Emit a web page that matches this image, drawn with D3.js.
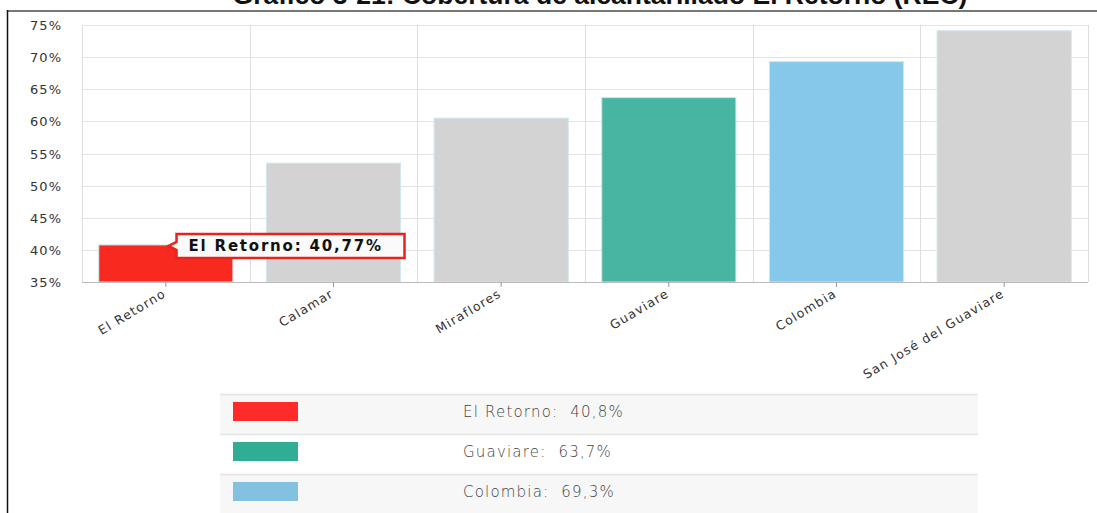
<!DOCTYPE html>
<html>
<head>
<meta charset="utf-8">
<script src="https://cdn.jsdelivr.net/npm/d3@7"></script>
<style>
  body { margin: 0; background: #fff; }
  svg { display: block; }
</style>
</head>
<body>
<div id="chart"></div>
<script>
// chart data
const categories = ["El Retorno", "Calamar", "Miraflores", "Guaviare", "Colombia", "San José del Guaviare"];
const values = [40.77, 53.5, 60.5, 63.7, 69.3, 74.1];
const barColors = ["#f8291f", "#d3d3d3", "#d3d3d3", "#48b4a2", "#86c8ea", "#d3d3d3"];
const yTicks = [35, 40, 45, 50, 55, 60, 65, 70, 75];

const legendLabels = ["El Retorno:  40,8%", "Guaviare:  63,7%", "Colombia:  69,3%"];
const legendColors = ["#ff2a2a", "#31ad95", "#83c1e1"];

const titleText = "Gráfico 3-21: Cobertura de alcantarillado El Retorno (REC)";
const tooltipText = "El Retorno: 40,77%";

// size
const W = 1097, H = 513;
const PLOT_LEFT = 82, PLOT_RIGHT = 1088, PLOT_TOP = 25, PLOT_BOTTOM = 282;

const svg = d3.select("#chart")
    .append("svg")
    .attr("width", W)
    .attr("height", H);

// page frame + title (cut off by the top edge, as in the page)
svg.append("text")
    .attr("x", 600)
    .attr("y", 4)
    .attr("text-anchor", "middle")
    .attr("font-family", "Liberation Sans, Arial, sans-serif")
    .attr("font-weight", "bold")
    .attr("font-size", 26.5)
    .attr("fill", "#111")
    .text(titleText);

svg.append("line")
    .attr("x1", 7).attr("x2", W)
    .attr("y1", 11).attr("y2", 11)
    .attr("stroke", "#777").attr("stroke-width", 2);

svg.append("line")
    .attr("x1", 7.5).attr("x2", 7.5)
    .attr("y1", 10).attr("y2", H)
    .attr("stroke", "#111").attr("stroke-width", 1.5);

// scales
const xScale = d3.scaleBand()
    .domain(categories)
    .range([PLOT_LEFT, PLOT_RIGHT])
    .paddingInner(0.2)
    .paddingOuter(0.1);

const yScale = d3.scaleLinear()
    .domain([35, 75])
    .range([PLOT_BOTTOM, PLOT_TOP]);

// grid
const gridX = d3.range(categories.length + 1).map(i => PLOT_LEFT + i * (PLOT_RIGHT - PLOT_LEFT) / categories.length);

svg.append("g")
    .selectAll("line")
    .data(yTicks)
    .join("line")
    .attr("x1", PLOT_LEFT).attr("x2", PLOT_RIGHT)
    .attr("y1", d => Math.round(yScale(d)) + 0.5)
    .attr("y2", d => Math.round(yScale(d)) + 0.5)
    .attr("stroke", "#e3e3e3");

svg.append("g")
    .selectAll("line")
    .data(gridX)
    .join("line")
    .attr("x1", d => Math.round(d) + 0.5).attr("x2", d => Math.round(d) + 0.5)
    .attr("y1", PLOT_TOP).attr("y2", PLOT_BOTTOM)
    .attr("stroke", "#dedede");

// bars
svg.append("g")
    .selectAll("rect")
    .data(categories)
    .join("rect")
    .attr("x", d => xScale(d))
    .attr("y", (d, i) => yScale(values[i]))
    .attr("width", xScale.bandwidth())
    .attr("height", (d, i) => yScale(35) - yScale(values[i]))
    .attr("fill", (d, i) => barColors[i])
    .attr("stroke", "#cfe6ee")
    .attr("stroke-width", 1);

// y axis labels
svg.append("g")
    .selectAll("text")
    .data(yTicks)
    .join("text")
    .attr("x", 62)
    .attr("y", d => yScale(d) + 5)
    .attr("text-anchor", "end")
    .attr("font-family", "DejaVu Sans, Verdana, sans-serif")
    .attr("font-size", 13)
    .attr("letter-spacing", 1)
    .attr("fill", "#333")
    .text(d => d + "%");

// x axis line + ticks
svg.append("line")
    .attr("x1", PLOT_LEFT).attr("x2", PLOT_RIGHT)
    .attr("y1", PLOT_BOTTOM + 0.5).attr("y2", PLOT_BOTTOM + 0.5)
    .attr("stroke", "#bbb");

svg.append("g")
    .selectAll("line")
    .data(categories)
    .join("line")
    .attr("x1", d => xScale(d) + xScale.bandwidth() / 2)
    .attr("x2", d => xScale(d) + xScale.bandwidth() / 2)
    .attr("y1", PLOT_BOTTOM).attr("y2", PLOT_BOTTOM + 5)
    .attr("stroke", "#999");

svg.append("g")
    .selectAll("text")
    .data(categories)
    .join("text")
    .attr("transform", d => `translate(${xScale(d) + xScale.bandwidth() / 2 + 1}, ${PLOT_BOTTOM + 14}) rotate(-31)`)
    .attr("text-anchor", "end")
    .attr("font-family", "DejaVu Sans, Verdana, sans-serif")
    .attr("font-size", 12.5)
    .attr("letter-spacing", 1.2)
    .attr("fill", "#333")
    .text(d => d);

// tooltip on El Retorno
const tipX = xScale(categories[0]) + xScale.bandwidth() * 0.52;
const tipY = yScale(values[0]) + 1;
const tip = svg.append("g").attr("transform", `translate(${tipX}, ${tipY})`);
tip.append("path")
    .attr("d", "M8,-12 H236 V12 H8 V4 L0,0 L8,-4 Z")
    .attr("fill", "#fafafa")
    .attr("stroke", "#e8231c")
    .attr("stroke-width", 2.5);
tip.append("text")
    .attr("x", 20)
    .attr("y", 5)
    .attr("font-family", "DejaVu Sans, Verdana, sans-serif")
    .attr("font-weight", "bold")
    .attr("font-size", 15)
    .attr("letter-spacing", 1.8)
    .attr("fill", "#111")
    .text(tooltipText);

// legend table
const LEG_X = 220, LEG_W = 758, LEG_TOP = 394, ROW_H = 40;
const legend = svg.append("g");
legendLabels.forEach((label, i) => {
    const y = LEG_TOP + i * ROW_H;
    legend.append("rect")
        .attr("x", LEG_X).attr("y", y)
        .attr("width", LEG_W).attr("height", ROW_H)
        .attr("fill", i % 2 === 0 ? "#f7f7f7" : "#ffffff");
    legend.append("line")
        .attr("x1", LEG_X).attr("x2", LEG_X + LEG_W)
        .attr("y1", y + 0.5).attr("y2", y + 0.5)
        .attr("stroke", "#e4e4e4").attr("stroke-width", 1.5);
    legend.append("rect")
        .attr("x", 233).attr("y", y + 8)
        .attr("width", 65).attr("height", 19)
        .attr("fill", legendColors[i]);
    legend.append("text")
        .attr("x", 463)
        .attr("y", y + 23)
        .attr("font-family", "DejaVu Sans, Verdana, sans-serif")
        .attr("font-weight", 300)
        .attr("font-size", 15)
        .attr("letter-spacing", 1.2)
        .attr("fill", "#444")
        .style("white-space", "pre")
        .text(label);
});
</script>
</body>
</html>
